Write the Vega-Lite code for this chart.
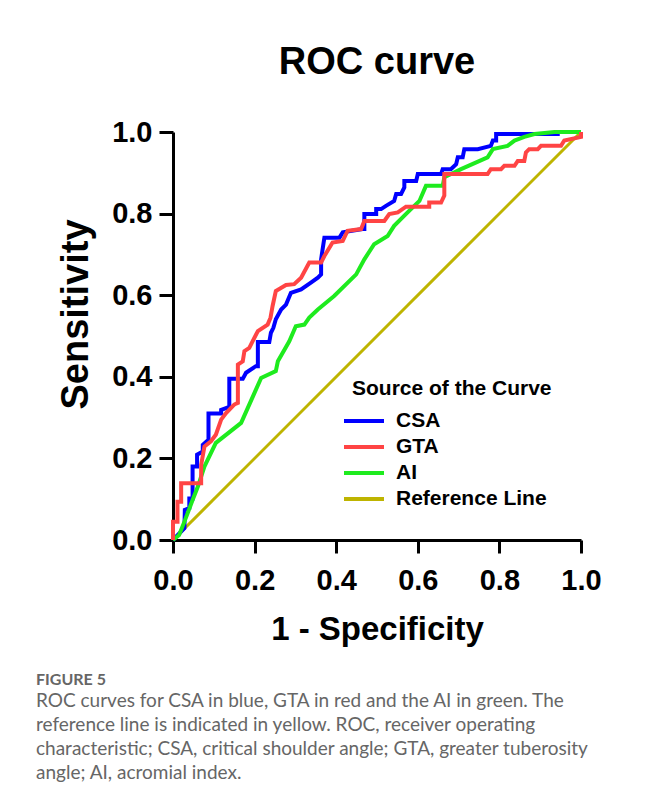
{
  "$schema": "https://vega.github.io/schema/vega-lite/v6.json",
  "padding": {"left": 36, "top": 44, "right": 10, "bottom": 10},
  "background": "white",
  "title": {
    "text": "FIGURE 5",
    "subtitle": [
      "ROC curves for CSA in blue, GTA in red and the AI in green. The",
      "reference line is indicated in yellow. ROC, receiver operating",
      "characteristic; CSA, critical shoulder angle; GTA, greater tuberosity",
      "angle; AI, acromial index."
    ],
    "orient": "bottom",
    "anchor": "start",
    "frame": "bounds",
    "dx": -21,
    "offset": 26,
    "font": "Lato",
    "fontSize": 16,
    "fontWeight": "bold",
    "color": "#666666",
    "subtitleFont": "Lato",
    "subtitleFontSize": 19,
    "subtitleFontWeight": "normal",
    "subtitleColor": "#666666",
    "subtitleLineHeight": 24,
    "subtitlePadding": 4
  },
  "vconcat": [
    {
      "width": 408,
      "height": 408,
      "title": {
        "text": "ROC curve",
        "font": "Liberation Sans",
        "fontSize": 38,
        "fontWeight": "bold",
        "color": "black",
        "anchor": "middle",
        "frame": "group",
        "offset": 36
      },
      "data": {
        "values": [
          {"c": "Reference Line", "i": 0, "x": 0, "y": 0},
          {"c": "Reference Line", "i": 1, "x": 1, "y": 1},
          {"c": "CSA", "i": 0, "x": 0, "y": 0},
          {"c": "CSA", "i": 1, "x": 0.028, "y": 0.029},
          {"c": "CSA", "i": 2, "x": 0.029, "y": 0.074},
          {"c": "CSA", "i": 3, "x": 0.04, "y": 0.078},
          {"c": "CSA", "i": 4, "x": 0.04, "y": 0.102},
          {"c": "CSA", "i": 5, "x": 0.048, "y": 0.102},
          {"c": "CSA", "i": 6, "x": 0.048, "y": 0.18},
          {"c": "CSA", "i": 7, "x": 0.059, "y": 0.18},
          {"c": "CSA", "i": 8, "x": 0.059, "y": 0.209},
          {"c": "CSA", "i": 9, "x": 0.073, "y": 0.217},
          {"c": "CSA", "i": 10, "x": 0.073, "y": 0.233},
          {"c": "CSA", "i": 11, "x": 0.087, "y": 0.246},
          {"c": "CSA", "i": 12, "x": 0.087, "y": 0.31},
          {"c": "CSA", "i": 13, "x": 0.118, "y": 0.31},
          {"c": "CSA", "i": 14, "x": 0.118, "y": 0.319},
          {"c": "CSA", "i": 15, "x": 0.138, "y": 0.326},
          {"c": "CSA", "i": 16, "x": 0.138, "y": 0.395},
          {"c": "CSA", "i": 17, "x": 0.171, "y": 0.395},
          {"c": "CSA", "i": 18, "x": 0.179, "y": 0.41},
          {"c": "CSA", "i": 19, "x": 0.203, "y": 0.426},
          {"c": "CSA", "i": 20, "x": 0.208, "y": 0.426},
          {"c": "CSA", "i": 21, "x": 0.208, "y": 0.485},
          {"c": "CSA", "i": 22, "x": 0.236, "y": 0.485},
          {"c": "CSA", "i": 23, "x": 0.24, "y": 0.508},
          {"c": "CSA", "i": 24, "x": 0.246, "y": 0.52},
          {"c": "CSA", "i": 25, "x": 0.252, "y": 0.541},
          {"c": "CSA", "i": 26, "x": 0.265, "y": 0.565},
          {"c": "CSA", "i": 27, "x": 0.277, "y": 0.577},
          {"c": "CSA", "i": 28, "x": 0.289, "y": 0.606},
          {"c": "CSA", "i": 29, "x": 0.314, "y": 0.614},
          {"c": "CSA", "i": 30, "x": 0.338, "y": 0.631},
          {"c": "CSA", "i": 31, "x": 0.355, "y": 0.643},
          {"c": "CSA", "i": 32, "x": 0.363, "y": 0.651},
          {"c": "CSA", "i": 33, "x": 0.363, "y": 0.688},
          {"c": "CSA", "i": 34, "x": 0.371, "y": 0.741},
          {"c": "CSA", "i": 35, "x": 0.408, "y": 0.741},
          {"c": "CSA", "i": 36, "x": 0.416, "y": 0.754},
          {"c": "CSA", "i": 37, "x": 0.465, "y": 0.762},
          {"c": "CSA", "i": 38, "x": 0.469, "y": 0.762},
          {"c": "CSA", "i": 39, "x": 0.469, "y": 0.799},
          {"c": "CSA", "i": 40, "x": 0.498, "y": 0.799},
          {"c": "CSA", "i": 41, "x": 0.498, "y": 0.811},
          {"c": "CSA", "i": 42, "x": 0.51, "y": 0.811},
          {"c": "CSA", "i": 43, "x": 0.522, "y": 0.819},
          {"c": "CSA", "i": 44, "x": 0.542, "y": 0.831},
          {"c": "CSA", "i": 45, "x": 0.547, "y": 0.848},
          {"c": "CSA", "i": 46, "x": 0.559, "y": 0.848},
          {"c": "CSA", "i": 47, "x": 0.567, "y": 0.864},
          {"c": "CSA", "i": 48, "x": 0.567, "y": 0.88},
          {"c": "CSA", "i": 49, "x": 0.596, "y": 0.88},
          {"c": "CSA", "i": 50, "x": 0.6, "y": 0.897},
          {"c": "CSA", "i": 51, "x": 0.657, "y": 0.897},
          {"c": "CSA", "i": 52, "x": 0.661, "y": 0.909},
          {"c": "CSA", "i": 53, "x": 0.681, "y": 0.909},
          {"c": "CSA", "i": 54, "x": 0.694, "y": 0.921},
          {"c": "CSA", "i": 55, "x": 0.698, "y": 0.938},
          {"c": "CSA", "i": 56, "x": 0.71, "y": 0.938},
          {"c": "CSA", "i": 57, "x": 0.714, "y": 0.958},
          {"c": "CSA", "i": 58, "x": 0.747, "y": 0.958},
          {"c": "CSA", "i": 59, "x": 0.779, "y": 0.966},
          {"c": "CSA", "i": 60, "x": 0.784, "y": 0.979},
          {"c": "CSA", "i": 61, "x": 0.792, "y": 0.979},
          {"c": "CSA", "i": 62, "x": 0.792, "y": 0.995},
          {"c": "CSA", "i": 63, "x": 0.943, "y": 0.995},
          {"c": "CSA", "i": 64, "x": 0.943, "y": 1},
          {"c": "CSA", "i": 65, "x": 1, "y": 1},
          {"c": "AI", "i": 0, "x": 0, "y": 0},
          {"c": "AI", "i": 1, "x": 0.015, "y": 0.012},
          {"c": "AI", "i": 2, "x": 0.028, "y": 0.045},
          {"c": "AI", "i": 3, "x": 0.036, "y": 0.066},
          {"c": "AI", "i": 4, "x": 0.048, "y": 0.098},
          {"c": "AI", "i": 5, "x": 0.061, "y": 0.131},
          {"c": "AI", "i": 6, "x": 0.077, "y": 0.18},
          {"c": "AI", "i": 7, "x": 0.105, "y": 0.238},
          {"c": "AI", "i": 8, "x": 0.167, "y": 0.287},
          {"c": "AI", "i": 9, "x": 0.216, "y": 0.397},
          {"c": "AI", "i": 10, "x": 0.252, "y": 0.414},
          {"c": "AI", "i": 11, "x": 0.257, "y": 0.438},
          {"c": "AI", "i": 12, "x": 0.285, "y": 0.487},
          {"c": "AI", "i": 13, "x": 0.301, "y": 0.524},
          {"c": "AI", "i": 14, "x": 0.322, "y": 0.528},
          {"c": "AI", "i": 15, "x": 0.334, "y": 0.545},
          {"c": "AI", "i": 16, "x": 0.355, "y": 0.565},
          {"c": "AI", "i": 17, "x": 0.395, "y": 0.598},
          {"c": "AI", "i": 18, "x": 0.449, "y": 0.651},
          {"c": "AI", "i": 19, "x": 0.469, "y": 0.688},
          {"c": "AI", "i": 20, "x": 0.493, "y": 0.725},
          {"c": "AI", "i": 21, "x": 0.526, "y": 0.745},
          {"c": "AI", "i": 22, "x": 0.542, "y": 0.77},
          {"c": "AI", "i": 23, "x": 0.575, "y": 0.803},
          {"c": "AI", "i": 24, "x": 0.604, "y": 0.831},
          {"c": "AI", "i": 25, "x": 0.62, "y": 0.868},
          {"c": "AI", "i": 26, "x": 0.661, "y": 0.868},
          {"c": "AI", "i": 27, "x": 0.665, "y": 0.889},
          {"c": "AI", "i": 28, "x": 0.706, "y": 0.909},
          {"c": "AI", "i": 29, "x": 0.771, "y": 0.938},
          {"c": "AI", "i": 30, "x": 0.784, "y": 0.958},
          {"c": "AI", "i": 31, "x": 0.82, "y": 0.966},
          {"c": "AI", "i": 32, "x": 0.837, "y": 0.979},
          {"c": "AI", "i": 33, "x": 0.861, "y": 0.988},
          {"c": "AI", "i": 34, "x": 0.886, "y": 0.995},
          {"c": "AI", "i": 35, "x": 0.935, "y": 1},
          {"c": "AI", "i": 36, "x": 1, "y": 1},
          {"c": "GTA", "i": 0, "x": 0, "y": 0},
          {"c": "GTA", "i": 1, "x": 0, "y": 0.045},
          {"c": "GTA", "i": 2, "x": 0.011, "y": 0.045},
          {"c": "GTA", "i": 3, "x": 0.011, "y": 0.094},
          {"c": "GTA", "i": 4, "x": 0.02, "y": 0.094},
          {"c": "GTA", "i": 5, "x": 0.02, "y": 0.139},
          {"c": "GTA", "i": 6, "x": 0.069, "y": 0.139},
          {"c": "GTA", "i": 7, "x": 0.069, "y": 0.184},
          {"c": "GTA", "i": 8, "x": 0.077, "y": 0.229},
          {"c": "GTA", "i": 9, "x": 0.093, "y": 0.242},
          {"c": "GTA", "i": 10, "x": 0.105, "y": 0.258},
          {"c": "GTA", "i": 11, "x": 0.118, "y": 0.295},
          {"c": "GTA", "i": 12, "x": 0.13, "y": 0.311},
          {"c": "GTA", "i": 13, "x": 0.15, "y": 0.332},
          {"c": "GTA", "i": 14, "x": 0.159, "y": 0.336},
          {"c": "GTA", "i": 15, "x": 0.159, "y": 0.43},
          {"c": "GTA", "i": 16, "x": 0.171, "y": 0.438},
          {"c": "GTA", "i": 17, "x": 0.175, "y": 0.463},
          {"c": "GTA", "i": 18, "x": 0.187, "y": 0.471},
          {"c": "GTA", "i": 19, "x": 0.195, "y": 0.487},
          {"c": "GTA", "i": 20, "x": 0.208, "y": 0.512},
          {"c": "GTA", "i": 21, "x": 0.232, "y": 0.528},
          {"c": "GTA", "i": 22, "x": 0.239, "y": 0.545},
          {"c": "GTA", "i": 23, "x": 0.244, "y": 0.573},
          {"c": "GTA", "i": 24, "x": 0.252, "y": 0.61},
          {"c": "GTA", "i": 25, "x": 0.277, "y": 0.625},
          {"c": "GTA", "i": 26, "x": 0.297, "y": 0.627},
          {"c": "GTA", "i": 27, "x": 0.314, "y": 0.643},
          {"c": "GTA", "i": 28, "x": 0.334, "y": 0.68},
          {"c": "GTA", "i": 29, "x": 0.363, "y": 0.68},
          {"c": "GTA", "i": 30, "x": 0.371, "y": 0.696},
          {"c": "GTA", "i": 31, "x": 0.391, "y": 0.729},
          {"c": "GTA", "i": 32, "x": 0.416, "y": 0.733},
          {"c": "GTA", "i": 33, "x": 0.428, "y": 0.758},
          {"c": "GTA", "i": 34, "x": 0.461, "y": 0.762},
          {"c": "GTA", "i": 35, "x": 0.469, "y": 0.782},
          {"c": "GTA", "i": 36, "x": 0.518, "y": 0.782},
          {"c": "GTA", "i": 37, "x": 0.53, "y": 0.799},
          {"c": "GTA", "i": 38, "x": 0.551, "y": 0.803},
          {"c": "GTA", "i": 39, "x": 0.571, "y": 0.817},
          {"c": "GTA", "i": 40, "x": 0.628, "y": 0.817},
          {"c": "GTA", "i": 41, "x": 0.628, "y": 0.827},
          {"c": "GTA", "i": 42, "x": 0.657, "y": 0.827},
          {"c": "GTA", "i": 43, "x": 0.665, "y": 0.844},
          {"c": "GTA", "i": 44, "x": 0.665, "y": 0.897},
          {"c": "GTA", "i": 45, "x": 0.771, "y": 0.897},
          {"c": "GTA", "i": 46, "x": 0.779, "y": 0.909},
          {"c": "GTA", "i": 47, "x": 0.804, "y": 0.909},
          {"c": "GTA", "i": 48, "x": 0.812, "y": 0.917},
          {"c": "GTA", "i": 49, "x": 0.837, "y": 0.917},
          {"c": "GTA", "i": 50, "x": 0.845, "y": 0.929},
          {"c": "GTA", "i": 51, "x": 0.861, "y": 0.929},
          {"c": "GTA", "i": 52, "x": 0.865, "y": 0.95},
          {"c": "GTA", "i": 53, "x": 0.873, "y": 0.958},
          {"c": "GTA", "i": 54, "x": 0.894, "y": 0.958},
          {"c": "GTA", "i": 55, "x": 0.902, "y": 0.966},
          {"c": "GTA", "i": 56, "x": 0.951, "y": 0.966},
          {"c": "GTA", "i": 57, "x": 0.959, "y": 0.979},
          {"c": "GTA", "i": 58, "x": 1, "y": 0.988},
          {"c": "GTA", "i": 59, "x": 1, "y": 1}
        ]
      },
      "encoding": {
        "x": {
          "field": "x",
          "type": "quantitative",
          "scale": {"domain": [0, 1], "nice": false},
          "axis": {
            "title": "1 - Specificity",
            "values": [0, 0.2, 0.4, 0.6, 0.8, 1],
            "format": ".1f",
            "grid": false,
            "labelFlush": false,
            "labelFont": "Liberation Sans",
            "labelFontSize": 29,
            "labelFontWeight": "bold",
            "labelColor": "black",
            "labelPadding": 13,
            "tickSize": 13,
            "tickWidth": 3,
            "tickColor": "black",
            "domainWidth": 3,
            "domainColor": "black",
            "titleFont": "Liberation Sans",
            "titleFontSize": 33,
            "titleFontWeight": "bold",
            "titleColor": "black",
            "titlePadding": 18
          }
        },
        "y": {
          "field": "y",
          "type": "quantitative",
          "scale": {"domain": [0, 1], "nice": false},
          "axis": {
            "title": "Sensitivity",
            "values": [0, 0.2, 0.4, 0.6, 0.8, 1],
            "format": ".1f",
            "grid": false,
            "labelFlush": false,
            "labelFont": "Liberation Sans",
            "labelFontSize": 29,
            "labelFontWeight": "bold",
            "labelColor": "black",
            "labelPadding": 7,
            "tickSize": 14,
            "tickWidth": 3,
            "tickColor": "black",
            "domainWidth": 3,
            "domainColor": "black",
            "titleFont": "Liberation Sans",
            "titleFontSize": 38,
            "titleFontWeight": "bold",
            "titleColor": "black",
            "titleX": -97,
            "titleY": 182,
            "titleAngle": -90,
            "titleAlign": "center",
            "titleBaseline": "middle"
          }
        },
        "order": {"field": "i", "type": "quantitative"},
        "color": {
          "field": "c",
          "type": "nominal",
          "scale": {
            "domain": ["CSA", "GTA", "AI", "Reference Line"],
            "range": ["#0000FF", "#FF4444", "#1EEB1E", "#BEB400"]
          },
          "legend": {
            "orient": "none",
            "legendX": 179,
            "legendY": 246,
            "padding": 0,
            "title": "Source of the Curve",
            "titleLimit": 400,
            "titleFont": "Liberation Sans",
            "titleFontSize": 21,
            "titleFontWeight": "bold",
            "titleColor": "black",
            "titlePadding": 10,
            "labelFont": "Liberation Sans",
            "labelFontSize": 21,
            "labelFontWeight": "bold",
            "labelColor": "black",
            "labelLimit": 400,
            "labelOffset": 20,
            "symbolType": "M-2,0H2",
            "symbolSize": 400,
            "symbolStrokeWidth": 4,
            "rowPadding": 4
          }
        }
      },
      "layer": [
        {
          "transform": [{"filter": "datum.c === 'Reference Line'"}],
          "mark": {"type": "line", "strokeWidth": 3}
        },
        {
          "transform": [{"filter": "datum.c !== 'Reference Line'"}],
          "mark": {"type": "line", "strokeWidth": 4}
        }
      ]
    }
  ],
  "config": {"view": {"stroke": null}}
}
